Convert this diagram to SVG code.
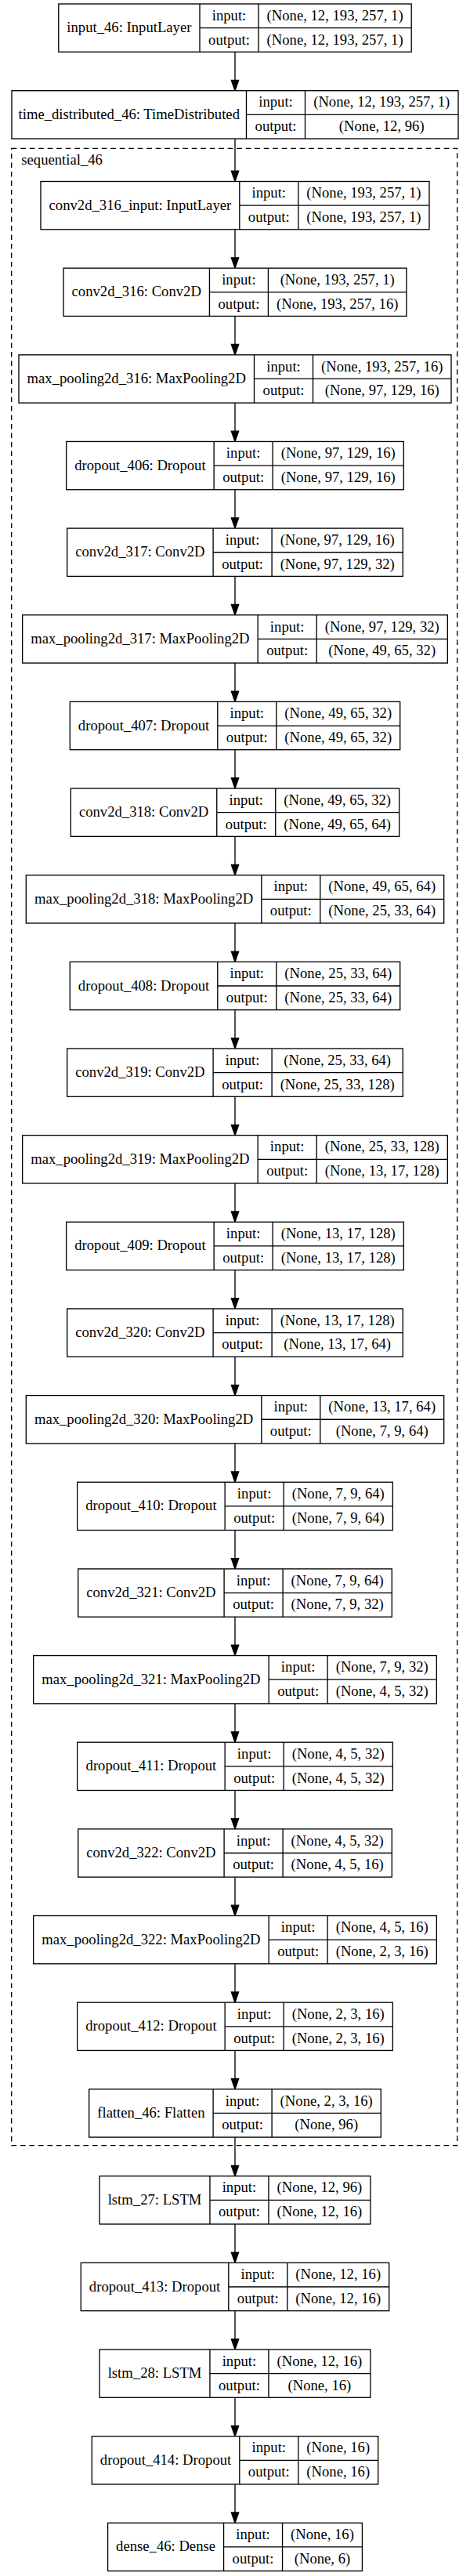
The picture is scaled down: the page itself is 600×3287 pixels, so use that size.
<svg xmlns="http://www.w3.org/2000/svg" width="600" height="3287" viewBox="0 0 600 3287">
<style>
text{font-family:"Liberation Serif","Times New Roman",serif;font-size:18.67px;fill:#000;text-anchor:middle}
.n rect{fill:#fff;stroke:#000;stroke-width:1.33}
.n path{fill:none;stroke:#000;stroke-width:1.33}
.e line{stroke:#000;stroke-width:1.33}
.cl{fill:none;stroke:#000;stroke-width:1.33;stroke-dasharray:6.7,4.8}
</style>
<defs>
<marker id="ah" markerUnits="userSpaceOnUse" markerWidth="16" markerHeight="12" refX="0" refY="4.67" orient="auto" overflow="visible"><path d="M0,0 L13.3,4.67 L0,9.33 Z" fill="#000" stroke="#000" stroke-width="1.33"/></marker>
</defs>
<rect width="600" height="3287" fill="#fff"/>
<g id="cluster_sequential_46">
<rect class="cl" x="14.7" y="189.3" width="569" height="2548.4"/>
<text x="27.3" y="210" style="text-anchor:start">sequential_46</text>
</g>
<g class="e" id="connectors">
<line x1="300" y1="66.3" x2="300" y2="102.4" marker-end="url(#ah)"/>
<line x1="300" y1="177" x2="300" y2="218.2" marker-end="url(#ah)"/>
<line x1="300" y1="292.8" x2="300" y2="328.85" marker-end="url(#ah)"/>
<line x1="300" y1="403.45" x2="300" y2="439.5" marker-end="url(#ah)"/>
<line x1="300" y1="514.1" x2="300" y2="550.15" marker-end="url(#ah)"/>
<line x1="300" y1="624.75" x2="300" y2="660.8" marker-end="url(#ah)"/>
<line x1="300" y1="735.4" x2="300" y2="771.45" marker-end="url(#ah)"/>
<line x1="300" y1="846.05" x2="300" y2="882.1" marker-end="url(#ah)"/>
<line x1="300" y1="956.7" x2="300" y2="992.75" marker-end="url(#ah)"/>
<line x1="300" y1="1067.35" x2="300" y2="1103.4" marker-end="url(#ah)"/>
<line x1="300" y1="1178" x2="300" y2="1214.05" marker-end="url(#ah)"/>
<line x1="300" y1="1288.65" x2="300" y2="1324.7" marker-end="url(#ah)"/>
<line x1="300" y1="1399.3" x2="300" y2="1435.35" marker-end="url(#ah)"/>
<line x1="300" y1="1509.95" x2="300" y2="1546" marker-end="url(#ah)"/>
<line x1="300" y1="1620.6" x2="300" y2="1656.65" marker-end="url(#ah)"/>
<line x1="300" y1="1731.25" x2="300" y2="1767.3" marker-end="url(#ah)"/>
<line x1="300" y1="1841.9" x2="300" y2="1877.95" marker-end="url(#ah)"/>
<line x1="300" y1="1952.55" x2="300" y2="1988.6" marker-end="url(#ah)"/>
<line x1="300" y1="2063.2" x2="300" y2="2099.25" marker-end="url(#ah)"/>
<line x1="300" y1="2173.85" x2="300" y2="2209.9" marker-end="url(#ah)"/>
<line x1="300" y1="2284.5" x2="300" y2="2320.55" marker-end="url(#ah)"/>
<line x1="300" y1="2395.15" x2="300" y2="2431.2" marker-end="url(#ah)"/>
<line x1="300" y1="2505.8" x2="300" y2="2541.85" marker-end="url(#ah)"/>
<line x1="300" y1="2616.45" x2="300" y2="2652.5" marker-end="url(#ah)"/>
<line x1="300" y1="2727.1" x2="300" y2="2763.4" marker-end="url(#ah)"/>
<line x1="300" y1="2838" x2="300" y2="2874.05" marker-end="url(#ah)"/>
<line x1="300" y1="2948.65" x2="300" y2="2984.7" marker-end="url(#ah)"/>
<line x1="300" y1="3059.3" x2="300" y2="3095.35" marker-end="url(#ah)"/>
<line x1="300" y1="3169.95" x2="300" y2="3206" marker-end="url(#ah)"/>
</g>

<g class="n" id="input_46" transform="translate(74.8,5)"><rect width="450.4" height="61.3"/><path d="M180.2 0V61.3M255.2 0V61.3M180.2 30.65H450.4"/><text x="90.1" y="36.2">input_46: InputLayer</text><text x="217.7" y="20.8">input:</text><text x="217.7" y="51.5">output:</text><text x="352.8" y="20.8">(None, 12, 193, 257, 1)</text><text x="352.8" y="51.5">(None, 12, 193, 257, 1)</text></g>

<g class="n" id="time_distributed_46" transform="translate(15,115.7)"><rect width="570" height="61.3"/><path d="M299.5 0V61.3M374.5 0V61.3M299.5 30.65H570"/><text x="149.75" y="36.2">time_distributed_46: TimeDistributed</text><text x="337" y="20.8">input:</text><text x="337" y="51.5">output:</text><text x="472.25" y="20.8">(None, 12, 193, 257, 1)</text><text x="472.25" y="51.5">(None, 12, 96)</text></g>

<g class="n" id="conv2d_316_input" transform="translate(52,231.5)"><rect width="496" height="61.3"/><path d="M253.8 0V61.3M328.8 0V61.3M253.8 30.65H496"/><text x="126.9" y="36.2">conv2d_316_input: InputLayer</text><text x="291.3" y="20.8">input:</text><text x="291.3" y="51.5">output:</text><text x="412.4" y="20.8">(None, 193, 257, 1)</text><text x="412.4" y="51.5">(None, 193, 257, 1)</text></g>

<g class="n" id="conv2d_316" transform="translate(81.05,342.15)"><rect width="437.9" height="61.3"/><path d="M186.4 0V61.3M261.4 0V61.3M186.4 30.65H437.9"/><text x="93.2" y="36.2">conv2d_316: Conv2D</text><text x="223.9" y="20.8">input:</text><text x="223.9" y="51.5">output:</text><text x="349.65" y="20.8">(None, 193, 257, 1)</text><text x="349.65" y="51.5">(None, 193, 257, 16)</text></g>

<g class="n" id="max_pooling2d_316" transform="translate(24,452.8)"><rect width="552" height="61.3"/><path d="M300.5 0V61.3M375.5 0V61.3M300.5 30.65H552"/><text x="150.25" y="36.2">max_pooling2d_316: MaxPooling2D</text><text x="338" y="20.8">input:</text><text x="338" y="51.5">output:</text><text x="463.75" y="20.8">(None, 193, 257, 16)</text><text x="463.75" y="51.5">(None, 97, 129, 16)</text></g>

<g class="n" id="dropout_406" transform="translate(84.65,563.45)"><rect width="430.7" height="61.3"/><path d="M188.5 0V61.3M263.5 0V61.3M188.5 30.65H430.7"/><text x="94.25" y="36.2">dropout_406: Dropout</text><text x="226" y="20.8">input:</text><text x="226" y="51.5">output:</text><text x="347.1" y="20.8">(None, 97, 129, 16)</text><text x="347.1" y="51.5">(None, 97, 129, 16)</text></g>

<g class="n" id="conv2d_317" transform="translate(85.7,674.1)"><rect width="428.6" height="61.3"/><path d="M186.4 0V61.3M261.4 0V61.3M186.4 30.65H428.6"/><text x="93.2" y="36.2">conv2d_317: Conv2D</text><text x="223.9" y="20.8">input:</text><text x="223.9" y="51.5">output:</text><text x="345" y="20.8">(None, 97, 129, 16)</text><text x="345" y="51.5">(None, 97, 129, 32)</text></g>

<g class="n" id="max_pooling2d_317" transform="translate(28.65,784.75)"><rect width="542.7" height="61.3"/><path d="M300.5 0V61.3M375.5 0V61.3M300.5 30.65H542.7"/><text x="150.25" y="36.2">max_pooling2d_317: MaxPooling2D</text><text x="338" y="20.8">input:</text><text x="338" y="51.5">output:</text><text x="459.1" y="20.8">(None, 97, 129, 32)</text><text x="459.1" y="51.5">(None, 49, 65, 32)</text></g>

<g class="n" id="dropout_407" transform="translate(89.3,895.4)"><rect width="421.4" height="61.3"/><path d="M188.5 0V61.3M263.5 0V61.3M188.5 30.65H421.4"/><text x="94.25" y="36.2">dropout_407: Dropout</text><text x="226" y="20.8">input:</text><text x="226" y="51.5">output:</text><text x="342.45" y="20.8">(None, 49, 65, 32)</text><text x="342.45" y="51.5">(None, 49, 65, 32)</text></g>

<g class="n" id="conv2d_318" transform="translate(90.35,1006.05)"><rect width="419.3" height="61.3"/><path d="M186.4 0V61.3M261.4 0V61.3M186.4 30.65H419.3"/><text x="93.2" y="36.2">conv2d_318: Conv2D</text><text x="223.9" y="20.8">input:</text><text x="223.9" y="51.5">output:</text><text x="340.35" y="20.8">(None, 49, 65, 32)</text><text x="340.35" y="51.5">(None, 49, 65, 64)</text></g>

<g class="n" id="max_pooling2d_318" transform="translate(33.3,1116.7)"><rect width="533.4" height="61.3"/><path d="M300.5 0V61.3M375.5 0V61.3M300.5 30.65H533.4"/><text x="150.25" y="36.2">max_pooling2d_318: MaxPooling2D</text><text x="338" y="20.8">input:</text><text x="338" y="51.5">output:</text><text x="454.45" y="20.8">(None, 49, 65, 64)</text><text x="454.45" y="51.5">(None, 25, 33, 64)</text></g>

<g class="n" id="dropout_408" transform="translate(89.3,1227.35)"><rect width="421.4" height="61.3"/><path d="M188.5 0V61.3M263.5 0V61.3M188.5 30.65H421.4"/><text x="94.25" y="36.2">dropout_408: Dropout</text><text x="226" y="20.8">input:</text><text x="226" y="51.5">output:</text><text x="342.45" y="20.8">(None, 25, 33, 64)</text><text x="342.45" y="51.5">(None, 25, 33, 64)</text></g>

<g class="n" id="conv2d_319" transform="translate(85.7,1338)"><rect width="428.6" height="61.3"/><path d="M186.4 0V61.3M261.4 0V61.3M186.4 30.65H428.6"/><text x="93.2" y="36.2">conv2d_319: Conv2D</text><text x="223.9" y="20.8">input:</text><text x="223.9" y="51.5">output:</text><text x="345" y="20.8">(None, 25, 33, 64)</text><text x="345" y="51.5">(None, 25, 33, 128)</text></g>

<g class="n" id="max_pooling2d_319" transform="translate(28.65,1448.65)"><rect width="542.7" height="61.3"/><path d="M300.5 0V61.3M375.5 0V61.3M300.5 30.65H542.7"/><text x="150.25" y="36.2">max_pooling2d_319: MaxPooling2D</text><text x="338" y="20.8">input:</text><text x="338" y="51.5">output:</text><text x="459.1" y="20.8">(None, 25, 33, 128)</text><text x="459.1" y="51.5">(None, 13, 17, 128)</text></g>

<g class="n" id="dropout_409" transform="translate(84.65,1559.3)"><rect width="430.7" height="61.3"/><path d="M188.5 0V61.3M263.5 0V61.3M188.5 30.65H430.7"/><text x="94.25" y="36.2">dropout_409: Dropout</text><text x="226" y="20.8">input:</text><text x="226" y="51.5">output:</text><text x="347.1" y="20.8">(None, 13, 17, 128)</text><text x="347.1" y="51.5">(None, 13, 17, 128)</text></g>

<g class="n" id="conv2d_320" transform="translate(85.7,1669.95)"><rect width="428.6" height="61.3"/><path d="M186.4 0V61.3M261.4 0V61.3M186.4 30.65H428.6"/><text x="93.2" y="36.2">conv2d_320: Conv2D</text><text x="223.9" y="20.8">input:</text><text x="223.9" y="51.5">output:</text><text x="345" y="20.8">(None, 13, 17, 128)</text><text x="345" y="51.5">(None, 13, 17, 64)</text></g>

<g class="n" id="max_pooling2d_320" transform="translate(33.3,1780.6)"><rect width="533.4" height="61.3"/><path d="M300.5 0V61.3M375.5 0V61.3M300.5 30.65H533.4"/><text x="150.25" y="36.2">max_pooling2d_320: MaxPooling2D</text><text x="338" y="20.8">input:</text><text x="338" y="51.5">output:</text><text x="454.45" y="20.8">(None, 13, 17, 64)</text><text x="454.45" y="51.5">(None, 7, 9, 64)</text></g>

<g class="n" id="dropout_410" transform="translate(98.65,1891.25)"><rect width="402.7" height="61.3"/><path d="M188.5 0V61.3M263.5 0V61.3M188.5 30.65H402.7"/><text x="94.25" y="36.2">dropout_410: Dropout</text><text x="226" y="20.8">input:</text><text x="226" y="51.5">output:</text><text x="333.1" y="20.8">(None, 7, 9, 64)</text><text x="333.1" y="51.5">(None, 7, 9, 64)</text></g>

<g class="n" id="conv2d_321" transform="translate(99.7,2001.9)"><rect width="400.6" height="61.3"/><path d="M186.4 0V61.3M261.4 0V61.3M186.4 30.65H400.6"/><text x="93.2" y="36.2">conv2d_321: Conv2D</text><text x="223.9" y="20.8">input:</text><text x="223.9" y="51.5">output:</text><text x="331" y="20.8">(None, 7, 9, 64)</text><text x="331" y="51.5">(None, 7, 9, 32)</text></g>

<g class="n" id="max_pooling2d_321" transform="translate(42.65,2112.55)"><rect width="514.7" height="61.3"/><path d="M300.5 0V61.3M375.5 0V61.3M300.5 30.65H514.7"/><text x="150.25" y="36.2">max_pooling2d_321: MaxPooling2D</text><text x="338" y="20.8">input:</text><text x="338" y="51.5">output:</text><text x="445.1" y="20.8">(None, 7, 9, 32)</text><text x="445.1" y="51.5">(None, 4, 5, 32)</text></g>

<g class="n" id="dropout_411" transform="translate(98.65,2223.2)"><rect width="402.7" height="61.3"/><path d="M188.5 0V61.3M263.5 0V61.3M188.5 30.65H402.7"/><text x="94.25" y="36.2">dropout_411: Dropout</text><text x="226" y="20.8">input:</text><text x="226" y="51.5">output:</text><text x="333.1" y="20.8">(None, 4, 5, 32)</text><text x="333.1" y="51.5">(None, 4, 5, 32)</text></g>

<g class="n" id="conv2d_322" transform="translate(99.7,2333.85)"><rect width="400.6" height="61.3"/><path d="M186.4 0V61.3M261.4 0V61.3M186.4 30.65H400.6"/><text x="93.2" y="36.2">conv2d_322: Conv2D</text><text x="223.9" y="20.8">input:</text><text x="223.9" y="51.5">output:</text><text x="331" y="20.8">(None, 4, 5, 32)</text><text x="331" y="51.5">(None, 4, 5, 16)</text></g>

<g class="n" id="max_pooling2d_322" transform="translate(42.65,2444.5)"><rect width="514.7" height="61.3"/><path d="M300.5 0V61.3M375.5 0V61.3M300.5 30.65H514.7"/><text x="150.25" y="36.2">max_pooling2d_322: MaxPooling2D</text><text x="338" y="20.8">input:</text><text x="338" y="51.5">output:</text><text x="445.1" y="20.8">(None, 4, 5, 16)</text><text x="445.1" y="51.5">(None, 2, 3, 16)</text></g>

<g class="n" id="dropout_412" transform="translate(98.65,2555.15)"><rect width="402.7" height="61.3"/><path d="M188.5 0V61.3M263.5 0V61.3M188.5 30.65H402.7"/><text x="94.25" y="36.2">dropout_412: Dropout</text><text x="226" y="20.8">input:</text><text x="226" y="51.5">output:</text><text x="333.1" y="20.8">(None, 2, 3, 16)</text><text x="333.1" y="51.5">(None, 2, 3, 16)</text></g>

<g class="n" id="flatten_46" transform="translate(113.7,2665.8)"><rect width="372.6" height="61.3"/><path d="M158.4 0V61.3M233.4 0V61.3M158.4 30.65H372.6"/><text x="79.2" y="36.2">flatten_46: Flatten</text><text x="195.9" y="20.8">input:</text><text x="195.9" y="51.5">output:</text><text x="303" y="20.8">(None, 2, 3, 16)</text><text x="303" y="51.5">(None, 96)</text></g>

<g class="n" id="lstm_27" transform="translate(127.15,2776.7)"><rect width="345.7" height="61.3"/><path d="M140.8 0V61.3M215.8 0V61.3M140.8 30.65H345.7"/><text x="70.4" y="36.2">lstm_27: LSTM</text><text x="178.3" y="20.8">input:</text><text x="178.3" y="51.5">output:</text><text x="280.75" y="20.8">(None, 12, 96)</text><text x="280.75" y="51.5">(None, 12, 16)</text></g>

<g class="n" id="dropout_413" transform="translate(103.3,2887.35)"><rect width="393.4" height="61.3"/><path d="M188.5 0V61.3M263.5 0V61.3M188.5 30.65H393.4"/><text x="94.25" y="36.2">dropout_413: Dropout</text><text x="226" y="20.8">input:</text><text x="226" y="51.5">output:</text><text x="328.45" y="20.8">(None, 12, 16)</text><text x="328.45" y="51.5">(None, 12, 16)</text></g>

<g class="n" id="lstm_28" transform="translate(127.15,2998)"><rect width="345.7" height="61.3"/><path d="M140.8 0V61.3M215.8 0V61.3M140.8 30.65H345.7"/><text x="70.4" y="36.2">lstm_28: LSTM</text><text x="178.3" y="20.8">input:</text><text x="178.3" y="51.5">output:</text><text x="280.75" y="20.8">(None, 12, 16)</text><text x="280.75" y="51.5">(None, 16)</text></g>

<g class="n" id="dropout_414" transform="translate(117.3,3108.65)"><rect width="365.4" height="61.3"/><path d="M188.5 0V61.3M263.5 0V61.3M188.5 30.65H365.4"/><text x="94.25" y="36.2">dropout_414: Dropout</text><text x="226" y="20.8">input:</text><text x="226" y="51.5">output:</text><text x="314.45" y="20.8">(None, 16)</text><text x="314.45" y="51.5">(None, 16)</text></g>

<g class="n" id="dense_46" transform="translate(137.55,3219.3)"><rect width="324.9" height="61.3"/><path d="M148 0V61.3M223 0V61.3M148 30.65H324.9"/><text x="74" y="36.2">dense_46: Dense</text><text x="185.5" y="20.8">input:</text><text x="185.5" y="51.5">output:</text><text x="273.95" y="20.8">(None, 16)</text><text x="273.95" y="51.5">(None, 6)</text></g>
</svg>
